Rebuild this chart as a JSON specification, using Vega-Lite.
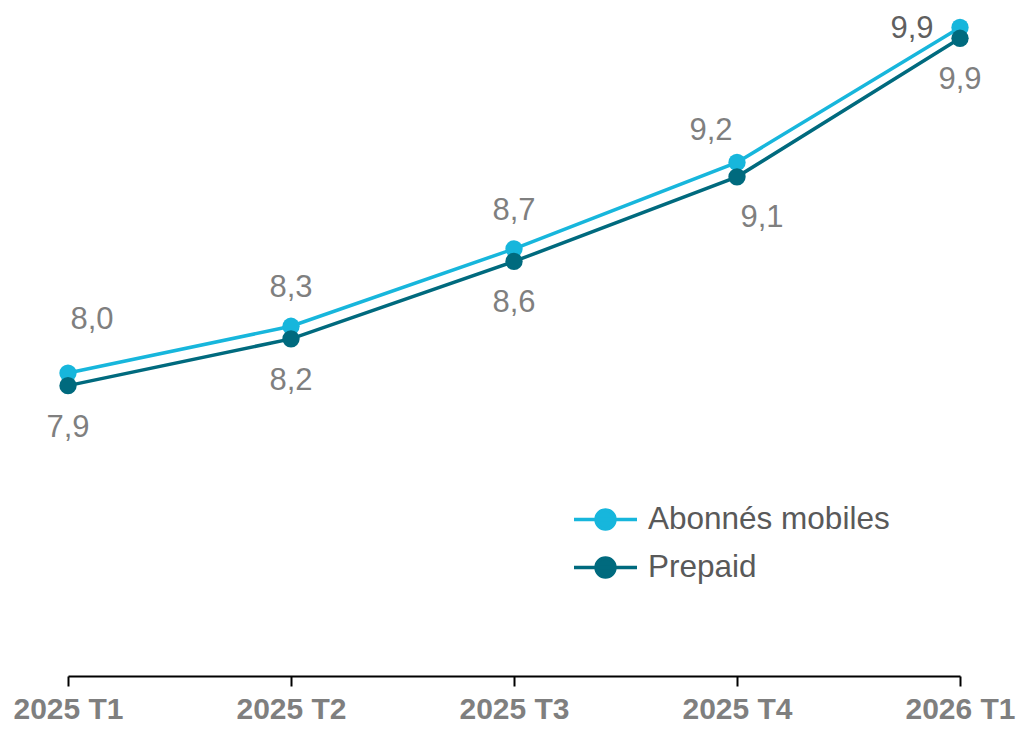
{
  "$schema": "https://vega.github.io/schema/vega-lite/v6.json",
  "width": 892,
  "height": 666,
  "autosize": {"type": "none"},
  "padding": {"left": 68, "top": 10, "right": 59, "bottom": 54},
  "background": "white",
  "config": {
    "view": {"stroke": null},
    "font": "Liberation Sans",
    "locale": {"number": {"decimal": ",", "thousands": " ", "grouping": [3], "currency": ["", " €"]}}
  },
  "data": {
    "values": [
      {"quarter": "2025 T1", "series": "Abonnés mobiles", "value": 8.0},
      {"quarter": "2025 T2", "series": "Abonnés mobiles", "value": 8.26},
      {"quarter": "2025 T3", "series": "Abonnés mobiles", "value": 8.69},
      {"quarter": "2025 T4", "series": "Abonnés mobiles", "value": 9.17},
      {"quarter": "2026 T1", "series": "Abonnés mobiles", "value": 9.92},
      {"quarter": "2025 T1", "series": "Prepaid", "value": 7.93},
      {"quarter": "2025 T2", "series": "Prepaid", "value": 8.19},
      {"quarter": "2025 T3", "series": "Prepaid", "value": 8.62},
      {"quarter": "2025 T4", "series": "Prepaid", "value": 9.09},
      {"quarter": "2026 T1", "series": "Prepaid", "value": 9.86}
    ]
  },
  "encoding": {
    "x": {
      "field": "quarter",
      "type": "ordinal",
      "sort": null,
      "scale": {"type": "point", "padding": 0},
      "axis": {
        "title": null,
        "labelAngle": 0,
        "grid": false,
        "domainColor": "#000000",
        "domainWidth": 2,
        "tickColor": "#000000",
        "tickWidth": 2,
        "tickSize": 10,
        "labelFont": "Liberation Sans",
        "labelFontWeight": "bold",
        "labelFontSize": 30,
        "labelColor": "#7f7f7f",
        "labelPadding": 8,
        "labelFlush": false,
        "labelOverlap": false
      }
    },
    "y": {
      "field": "value",
      "type": "quantitative",
      "scale": {"domain": [6.317, 10.017], "zero": false, "nice": false},
      "axis": null
    }
  },
  "layer": [
    {
      "mark": {"type": "line", "strokeWidth": 3.5},
      "encoding": {
        "color": {
          "field": "series",
          "type": "nominal",
          "scale": {"domain": ["Abonnés mobiles", "Prepaid"], "range": ["#17B6DC", "#006A7E"]},
          "legend": {
            "title": null,
            "orient": "none",
            "legendX": 520,
            "legendY": 492,
            "padding": 0,
            "symbolType": "M-2,0L2,0M-0.6,0A0.6,0.6,0,1,0,0.6,0A0.6,0.6,0,1,0,-0.6,0Z",
            "symbolSize": 992,
            "symbolStrokeWidth": 3.5,
            "labelOffset": 25,
            "labelLimit": 0,
            "labelFont": "Liberation Sans",
            "labelFontSize": 31.5,
            "labelColor": "#595959",
            "rowPadding": 14,
            "encode": {
              "symbols": {
                "update": {
                  "fill": {"scale": "color", "field": "value"},
                  "stroke": {"scale": "color", "field": "value"}
                }
              }
            }
          }
        }
      }
    },
    {
      "mark": {"type": "point", "filled": true, "size": 300, "opacity": 1},
      "encoding": {
        "color": {"field": "series", "type": "nominal", "legend": null}
      }
    },
    {
      "transform": [{"filter": "datum.series === 'Abonnés mobiles' && (datum.quarter === '2025 T2' || datum.quarter === '2025 T3')"}],
      "mark": {"type": "text", "fontSize": 31, "dy": -38, "color": "#7f7f7f"},
      "encoding": {"text": {"field": "value", "type": "quantitative", "format": ".1f"}}
    },
    {
      "transform": [{"filter": "datum.series === 'Abonnés mobiles' && datum.quarter === '2025 T1'"}],
      "mark": {"type": "text", "fontSize": 31, "dx": 24, "dy": -53, "color": "#7f7f7f"},
      "encoding": {"text": {"field": "value", "type": "quantitative", "format": ".1f"}}
    },
    {
      "transform": [{"filter": "datum.series === 'Abonnés mobiles' && datum.quarter === '2025 T4'"}],
      "mark": {"type": "text", "fontSize": 31, "dx": -26, "dy": -31, "color": "#7f7f7f"},
      "encoding": {"text": {"field": "value", "type": "quantitative", "format": ".1f"}}
    },
    {
      "transform": [{"filter": "datum.series === 'Abonnés mobiles' && datum.quarter === '2026 T1'"}],
      "mark": {"type": "text", "fontSize": 31, "dx": -48, "dy": 2, "color": "#5f5f5f"},
      "encoding": {"text": {"field": "value", "type": "quantitative", "format": ".1f"}}
    },
    {
      "transform": [{"filter": "datum.series === 'Prepaid' && datum.quarter !== '2025 T4'"}],
      "mark": {"type": "text", "fontSize": 31, "dy": 42, "color": "#7f7f7f"},
      "encoding": {"text": {"field": "value", "type": "quantitative", "format": ".1f"}}
    },
    {
      "transform": [{"filter": "datum.series === 'Prepaid' && datum.quarter === '2025 T4'"}],
      "mark": {"type": "text", "fontSize": 31, "dx": 25, "dy": 41, "color": "#7f7f7f"},
      "encoding": {"text": {"field": "value", "type": "quantitative", "format": ".1f"}}
    }
  ]
}
